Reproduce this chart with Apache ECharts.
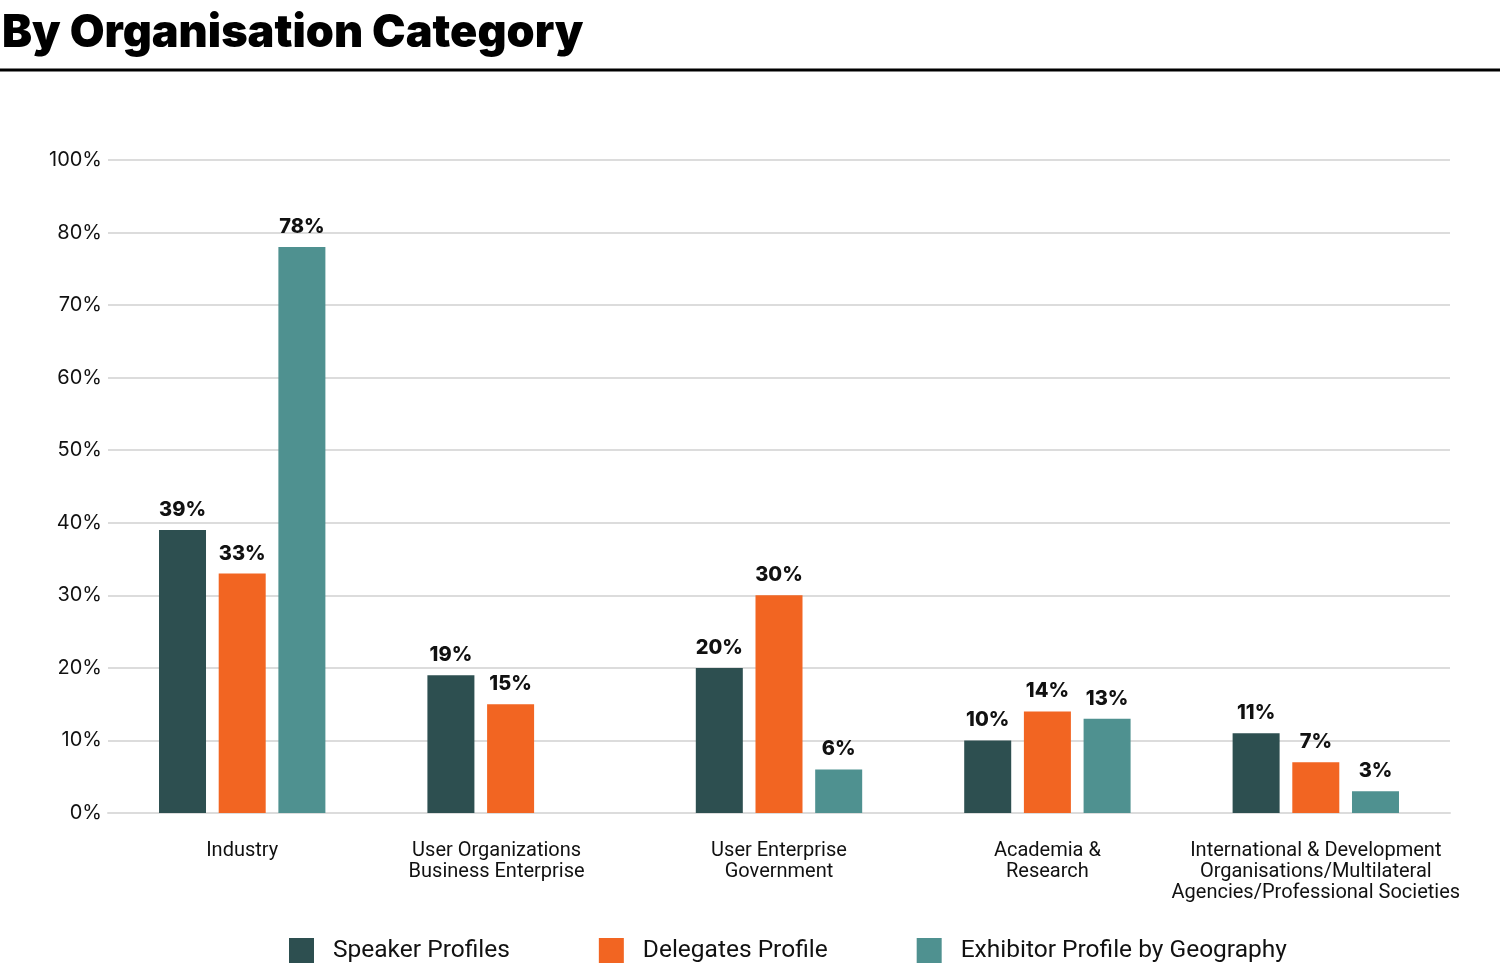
<!DOCTYPE html>
<html>
<head>
<meta charset="utf-8">
<script src="https://cdn.jsdelivr.net/npm/echarts@6/dist/echarts.min.js"></script>
<style>
html,body{margin:0;padding:0;background:#fff;}
#chart{width:1500px;height:968px;}
</style>
</head>
<body>
<div id="chart"></div>
<script>
const categories = ["Industry", "User Organizations\nBusiness Enterprise", "User Enterprise\nGovernment", "Academia &\nResearch", "International & Development\nOrganisations/Multilateral\nAgencies/Professional Societies"];
const seriesNames = ["Speaker Profiles", "Delegates Profile", "Exhibitor Profile by Geography"];
const speakerValues = [39, 19, 20, 10, 11];
const delegateValues = [33, 15, 30, 14, 7];
const exhibitorValues = [78, null, 6, 13, 3];
// Tick labels as printed on the source axis (the top label reads 100%)
const yTickValues = [0, 10, 20, 30, 40, 50, 60, 70, 80, 90];
const yTickLabels = ["0%", "10%", "20%", "30%", "40%", "50%", "60%", "70%", "80%", "100%"];
const colors = ["#2d4f50", "#f26522", "#4f9190"];

const chart = echarts.init(document.getElementById('chart'), null, {renderer: 'canvas'});
const font = "Inter, 'Liberation Sans', sans-serif";
const narrowFont = "Roboto, 'Liberation Sans', sans-serif";

function makeSeries(name, data, color) {
  return {
    name: name,
    type: 'bar',
    data: data,
    barWidth: 47,
    barGap: '27%',
    itemStyle: {color: color},
    label: {
      show: true,
      position: 'top',
      distance: 10,
      formatter: p => (p.value == null ? '' : p.value + '%'),
      fontFamily: font,
      fontWeight: 800,
      fontSize: 20,
      color: '#111'
    }
  };
}

const xCategoryData = categories.map((c, i) => i === 1
  ? {value: c, textStyle: {padding: [0, 28, 0, 0]}}
  : c);

chart.setOption({
  animation: false,
  backgroundColor: '#fff',
  title: {
    text: 'By Organisation Category',
    left: 0,
    top: 6,
    padding: [5, 5, 5, 2],
    textStyle: {fontFamily: font, fontWeight: 900, fontSize: 45, color: '#000'}
  },
  graphic: [{
    type: 'line',
    shape: {x1: 0, y1: 70, x2: 1500, y2: 70},
    style: {stroke: '#000', lineWidth: 3}
  }],
  legend: {
    bottom: 0,
    left: 284,
    itemWidth: 25,
    itemHeight: 25,
    itemGap: 89,
    icon: 'rect',
    textStyle: {fontFamily: narrowFont, fontSize: 24.5, color: '#111', padding: [0, 0, 0, 14]},
    data: seriesNames
  },
  grid: {left: 108, right: 50, top: 160, bottom: 155, containLabel: false},
  xAxis: {
    type: 'category',
    data: xCategoryData,
    axisLine: {show: true, lineStyle: {color: '#dcdcdc', width: 2}},
    axisTick: {show: false},
    axisLabel: {
      interval: 0,
      margin: 27,
      fontFamily: narrowFont,
      fontSize: 20,
      lineHeight: 21,
      color: '#111'
    }
  },
  yAxis: {
    type: 'value',
    min: 0,
    max: 90,
    interval: 10,
    axisLine: {show: false},
    axisTick: {show: false},
    splitLine: {show: true, lineStyle: {color: '#dcdcdc', width: 2}},
    axisLabel: {
      margin: 6,
      fontFamily: font,
      fontSize: 20,
      color: '#111',
      formatter: v => yTickLabels[yTickValues.indexOf(v)]
    }
  },
  series: [
    makeSeries(seriesNames[0], speakerValues, colors[0]),
    makeSeries(seriesNames[1], delegateValues, colors[1]),
    makeSeries(seriesNames[2], exhibitorValues, colors[2])
  ]
});
</script>
</body>
</html>
